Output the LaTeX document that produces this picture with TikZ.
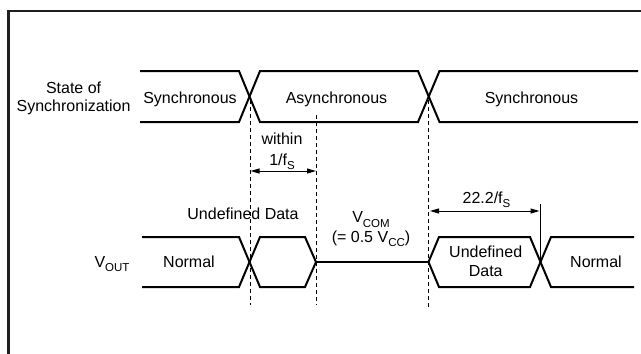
\documentclass[tikz,border=0pt]{standalone}
\usepackage{fontspec}
\setmainfont{Liberation Sans}
\usetikzlibrary{arrows.meta}
\newcommand{\lowsub}[1]{\raisebox{-4.4pt}{\fontsize{11.5}{12}\selectfont #1}}
\tikzset{
  sig/.style={line width=2pt, line join=miter, black},
  guide/.style={line width=0.8pt, dash pattern=on 4pt off 3pt, black},
  dim/.style={line width=1pt, {Triangle[length=9pt,width=5pt]}-{Triangle[length=9pt,width=5pt]}},
  lbl/.style={anchor=base, inner sep=0pt, font=\fontsize{16}{19}\selectfont},
  frame/.style={line width=2.5pt, black!88}
}
\begin{document}
\begin{tikzpicture}[x=1pt,y=-1pt]
\useasboundingbox (0,0) rectangle (641,354);
% frame
\draw[frame] (8.3,360) -- (8.3,11) -- (650,11);

% --- State of Synchronization waveform ---
\draw[sig] (140,71) -- (239,71) -- (260,122) -- (418,122) -- (439.5,71) -- (638,71);
\draw[sig] (140,122) -- (239,122) -- (260,71) -- (418,71) -- (439.5,122) -- (638,122);

% --- V_OUT waveform ---
\draw[sig] (142,237) -- (239,237) -- (260,287) -- (305,287) -- (316,262);
\draw[sig] (142,287) -- (239,287) -- (260,237) -- (305,237) -- (316,262);
\draw[sig] (316,262) -- (428.5,262);
\draw[sig] (428.5,262) -- (439,237) -- (530,237) -- (551,287) -- (634,287);
\draw[sig] (428.5,262) -- (439,287) -- (530,287) -- (551,237) -- (634,237);

% coordinates
\coordinate (d1t) at (250,100);   \coordinate (d1b) at (250,305);
\coordinate (d2t) at (316,115);   \coordinate (d2b) at (316,305);
\coordinate (d3t) at (428.5,100); \coordinate (d3b) at (428.5,307);
\coordinate (w1) at (250.5,171);  \coordinate (w2) at (316,171);
\coordinate (t1) at (430,211);    \coordinate (t2) at (539.5,211);
\coordinate (vlt) at (540.5,204); \coordinate (vlb) at (540.5,262);

% guides
\draw[guide] (d1t) -- (d1b);
\draw[guide] (d2t) -- (d2b);
\draw[guide] (d3t) -- (d3b);
\draw[line width=1pt] (vlt) -- (vlb);

% dimension arrows
\draw[dim] (w1) -- (w2);
\draw[dim] (t1) -- (t2);

% labels
\node[lbl] (st1) at (73.6,93) {State of};
\node[lbl] (st2) at (73.6,111.5) {Synchronization};
\node[lbl] (sync1) at (190,103) {Synchronous};
\node[lbl] (async) at (336.5,103) {Asynchronous};
\node[lbl] (sync2) at (531.5,103) {Synchronous};
\node[lbl] (within) at (282,144) {within};
\node[lbl] (fs1) at (282,165) {1/f\lowsub{S}};
\node[lbl] (und1) at (243,219.3) {Undefined Data};
\node[lbl] (vcom) at (371,222.7) {V\lowsub{COM}};
\node[lbl] (vcc) at (371,242.5) {(= 0.5 V\lowsub{CC})};
\node[lbl] (fs2) at (486.5,203.3) {22.2/f\lowsub{S}};
\node[lbl] (und2a) at (485.7,257.3) {Undefined};
\node[lbl] (und2b) at (485.7,276.7) {Data};
\node[lbl] (vout) at (112,267.3) {V\lowsub{OUT}};
\node[lbl] (norm1) at (189,267.3) {Normal};
\node[lbl] (norm2) at (596,267.3) {Normal};
\end{tikzpicture}
\end{document}
